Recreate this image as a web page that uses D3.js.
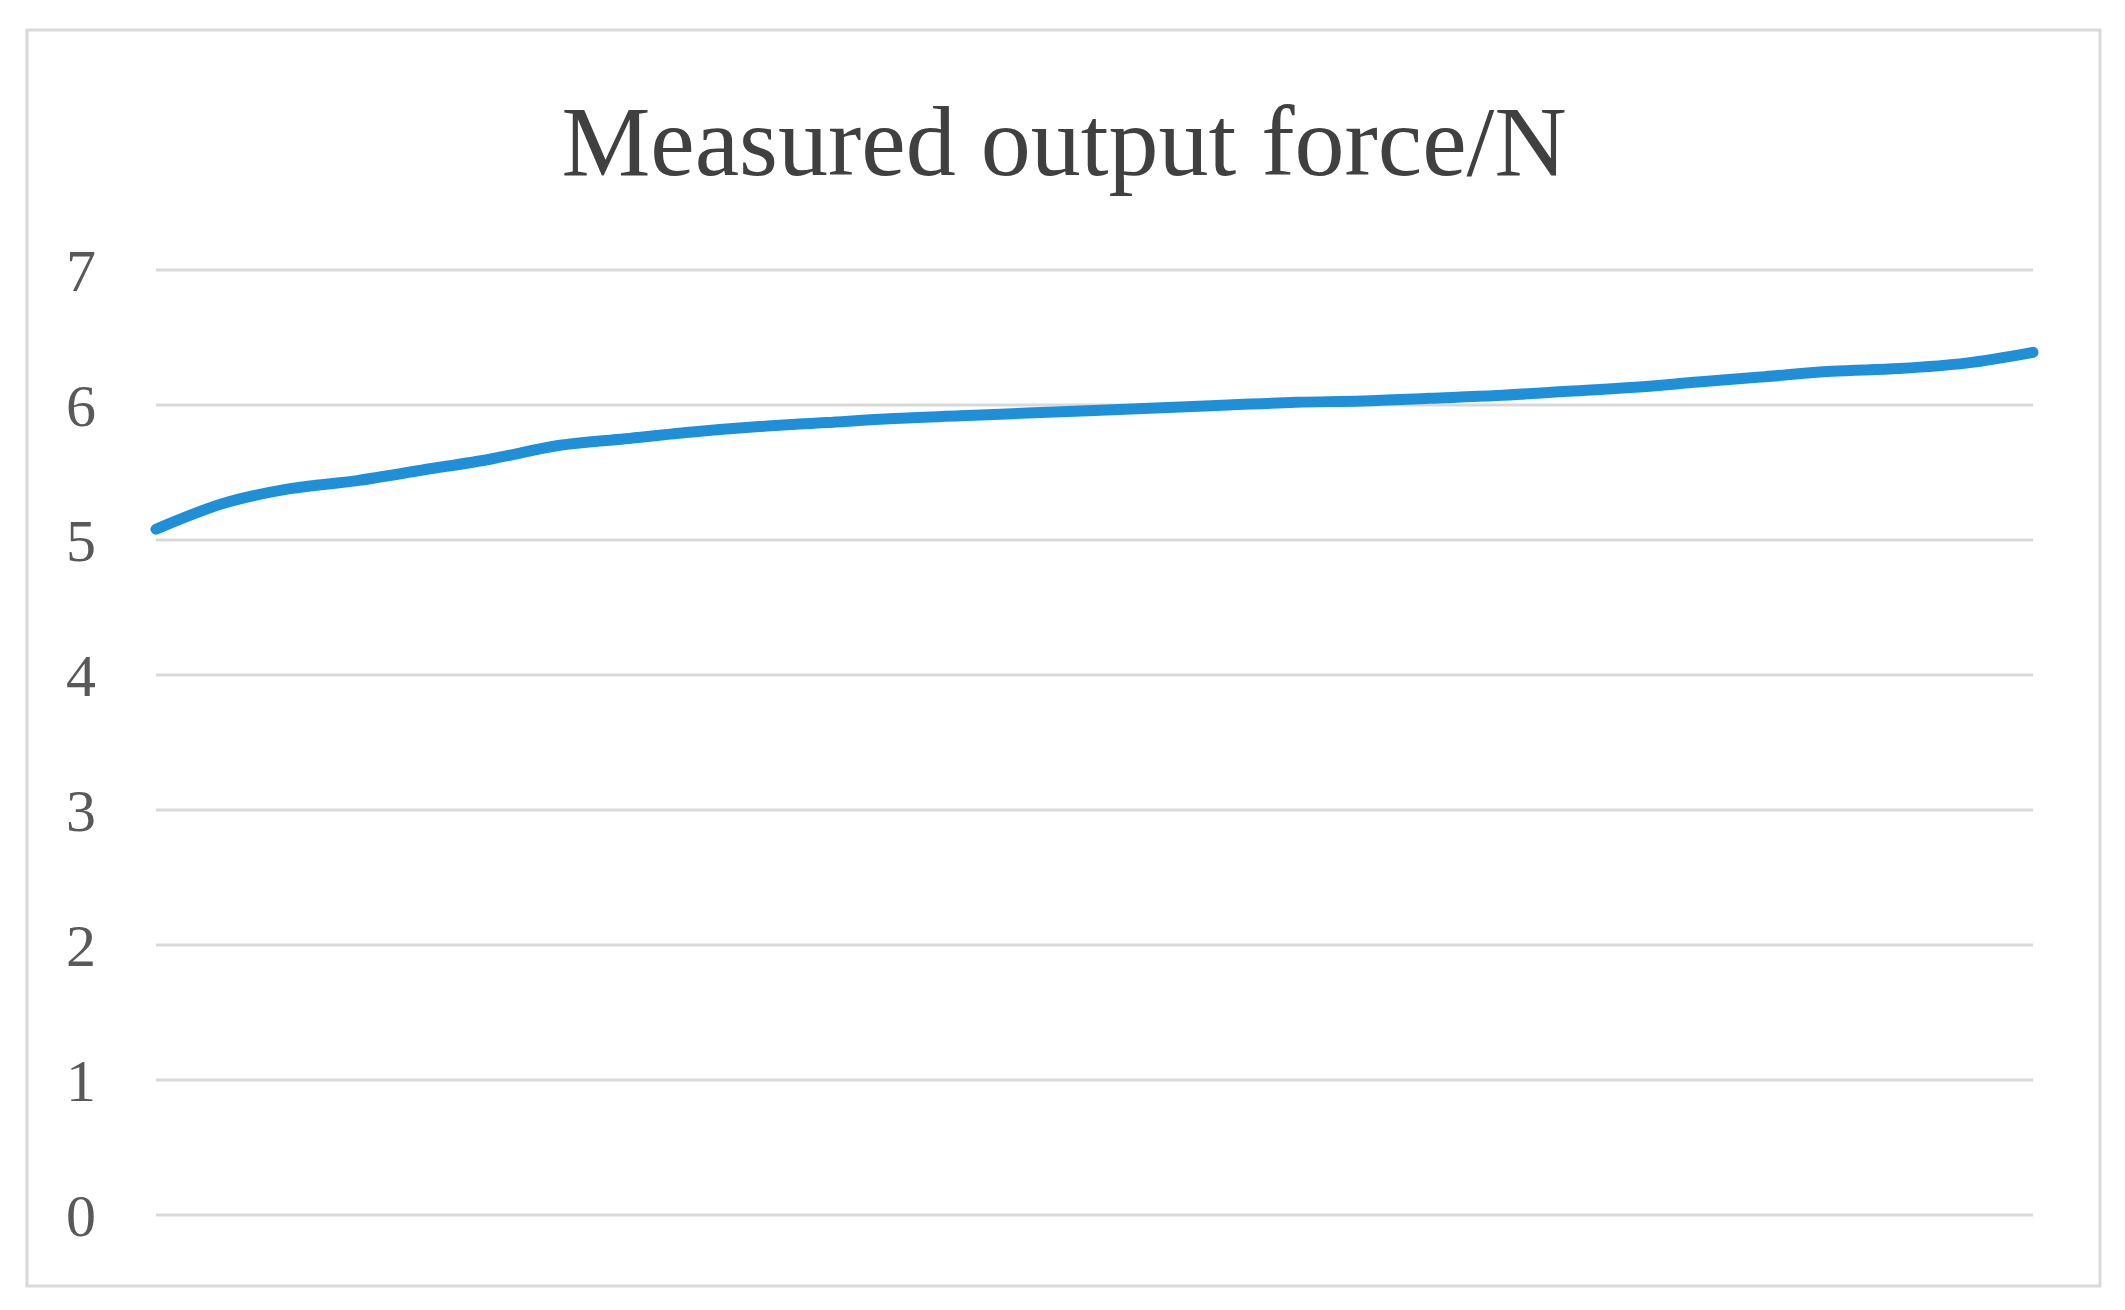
<!DOCTYPE html>
<html><head><meta charset="utf-8">
<script src="https://cdn.jsdelivr.net/npm/d3@7"></script>
<style>body{margin:0;background:#fff}</style></head>
<body><svg id="c" width="2125" height="1310"></svg>
<script>
const title = "Measured output force/N";
const samples = d3.range(29);
const force = [5.08,5.27,5.38,5.44,5.52,5.60,5.70,5.75,5.80,5.84,5.87,5.90,5.92,5.94,5.96,5.98,6.00,6.02,6.03,6.05,6.07,6.10,6.13,6.17,6.21,6.25,6.27,6.31,6.39];
const yTicks = [0,1,2,3,4,5,6,7];

const svg = d3.select("#c");
svg.append("rect").attr("x",27).attr("y",30).attr("width",2073).attr("height",1256)
  .attr("fill","#fff").attr("stroke","#d9d9d9").attr("stroke-width",3);
const x = d3.scaleLinear().domain([0,samples.length-1]).range([156,2033]);
const y = d3.scaleLinear().domain([0,7]).range([1215,270]);

svg.append("g").selectAll("line").data(yTicks).join("line")
  .attr("x1",156).attr("x2",2033).attr("y1",d=>y(d)).attr("y2",d=>y(d))
  .attr("stroke","#d9d9d9").attr("stroke-width",3);
svg.append("g").selectAll("text").data(yTicks).join("text")
  .attr("x",81).attr("y",d=>y(d)).attr("dy","0.35em").attr("text-anchor","middle")
  .attr("font-family","Liberation Serif").attr("font-size",60).attr("fill","#595959").text(d=>d);
svg.append("text").attr("x",1064).attr("y",175).attr("text-anchor","middle")
  .attr("font-family","Liberation Serif").attr("font-size",100).attr("fill","#404040").text(title);
svg.append("path").datum(samples)
  .attr("d",d3.line().x(i=>x(i)).y(i=>y(force[i])).curve(d3.curveMonotoneX))
  .attr("fill","none").attr("stroke","#1f8fd8").attr("stroke-width",11).attr("stroke-linecap","round");
</script></body></html>
